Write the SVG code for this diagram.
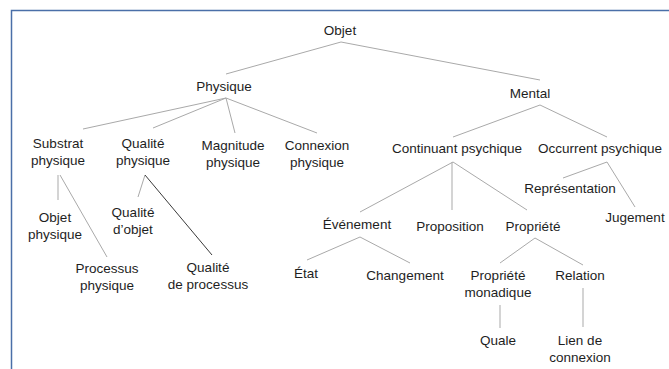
<svg xmlns="http://www.w3.org/2000/svg" width="669" height="369" viewBox="0 0 669 369">
<style>
text{font-family:"Liberation Sans",Arial,sans-serif;font-size:13.5px;fill:#1e1e1e;text-anchor:middle}
.c line{stroke:#a9a9a9;stroke-width:1}
.c line.d{stroke:#3a3a3a}
.frame{stroke:#4a6fa8;stroke-width:1.5;fill:none}
</style>
<rect width="669" height="369" fill="#fff"/>
<path class="frame" d="M11.5 369V10.5H669"/>
<g class="c" id="connectors">
<line x1="341" y1="42" x2="226" y2="74"/>
<line x1="341" y1="42" x2="540" y2="80"/>
<line x1="226" y1="98" x2="83" y2="129"/>
<line x1="226" y1="98" x2="153" y2="128"/>
<line x1="226" y1="98" x2="235" y2="133"/>
<line x1="226" y1="98" x2="317" y2="133"/>
<line x1="58" y1="175" x2="58" y2="200"/>
<line x1="60" y1="175" x2="107" y2="257"/>
<line x1="145" y1="175" x2="138" y2="197"/>
<line class="d" x1="145" y1="175" x2="212" y2="255"/>
<line x1="540" y1="105" x2="453" y2="137"/>
<line x1="540" y1="105" x2="607" y2="137"/>
<line x1="453" y1="162" x2="360" y2="212"/>
<line x1="452" y1="162" x2="452" y2="210"/>
<line x1="453" y1="162" x2="527" y2="210"/>
<line x1="607" y1="162" x2="563" y2="178"/>
<line x1="607" y1="162" x2="635" y2="207"/>
<line x1="360" y1="237" x2="307" y2="260"/>
<line x1="360" y1="237" x2="410" y2="263"/>
<line x1="535" y1="238" x2="500" y2="263"/>
<line x1="535" y1="238" x2="583" y2="265"/>
<line x1="500" y1="305" x2="500" y2="328"/>
<line x1="583" y1="288" x2="583" y2="327"/>
</g>
<g id="objet"><text x="340" y="35">Objet</text></g>
<g id="physique"><text x="224" y="91">Physique</text></g>
<g id="mental"><text x="530" y="98">Mental</text></g>
<g id="substrat"><text x="58" y="148">Substrat</text><text x="58" y="165">physique</text></g>
<g id="qualite-physique"><text x="143" y="148">Qualité</text><text x="143" y="165">physique</text></g>
<g id="magnitude"><text x="233" y="150">Magnitude</text><text x="233" y="167">physique</text></g>
<g id="connexion"><text x="317" y="150">Connexion</text><text x="317" y="167">physique</text></g>
<g id="objet-physique"><text x="55" y="222">Objet</text><text x="55" y="239">physique</text></g>
<g id="qualite-objet"><text x="133" y="217">Qualité</text><text x="133" y="234">d’objet</text></g>
<g id="processus"><text x="107" y="273">Processus</text><text x="107" y="290">physique</text></g>
<g id="qualite-processus"><text x="208" y="272">Qualité</text><text x="208" y="289">de processus</text></g>
<g id="continuant"><text x="457" y="153">Continuant psychique</text></g>
<g id="occurrent"><text x="600" y="153">Occurrent psychique</text></g>
<g id="representation"><text x="570" y="193">Représentation</text></g>
<g id="jugement"><text x="635" y="222">Jugement</text></g>
<g id="evenement"><text x="357" y="229">Événement</text></g>
<g id="proposition"><text x="450" y="231">Proposition</text></g>
<g id="propriete"><text x="533" y="231">Propriété</text></g>
<g id="etat"><text x="306" y="278">État</text></g>
<g id="changement"><text x="405" y="280">Changement</text></g>
<g id="propriete-monadique"><text x="498" y="280">Propriété</text><text x="498" y="297">monadique</text></g>
<g id="relation"><text x="580" y="280">Relation</text></g>
<g id="quale"><text x="498" y="345">Quale</text></g>
<g id="lien"><text x="580" y="345">Lien de</text><text x="580" y="362">connexion</text></g>
</svg>
